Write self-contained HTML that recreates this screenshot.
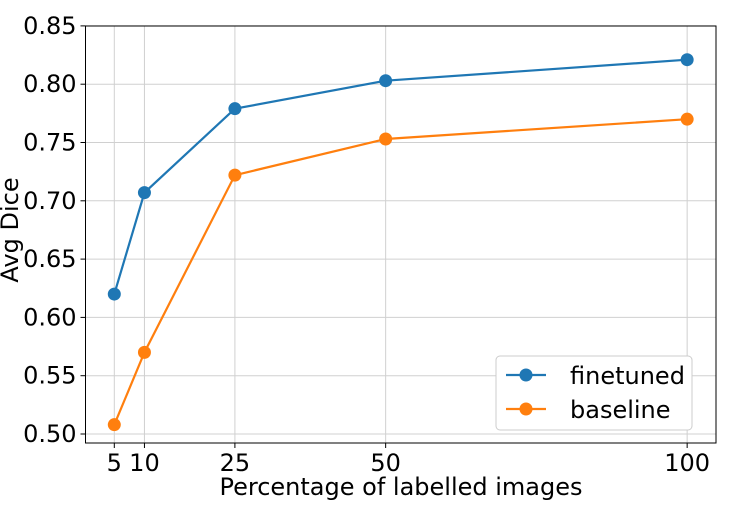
<!DOCTYPE html>
<html><head><meta charset="utf-8"><style>
body{margin:0;background:#fff;}
svg text{font-family:"DejaVu Sans","Liberation Sans",sans-serif;fill:#000;}
</style></head><body>
<svg id="chart" width="736" height="526" xmlns="http://www.w3.org/2000/svg">
<g id="grid"></g><g id="axes"></g><g id="series"></g>
<g>
<rect x="496" y="356" width="196" height="74" rx="4" fill="#fff" stroke="#ccc" stroke-width="1"/>
<g>
<line x1="506" y1="375" x2="546" y2="375" stroke="#1f77b4" stroke-width="2.2"/>
<circle cx="526" cy="375" r="6.5" fill="#1f77b4"/>
<text x="570" y="384" font-size="24">finetuned</text></g>
<g>
<line x1="506" y1="409" x2="546" y2="409" stroke="#ff7f0e" stroke-width="2.2"/>
<circle cx="526" cy="409" r="6.5" fill="#ff7f0e"/>
<text x="570" y="418" font-size="24">baseline</text></g>
</g>
<text x="401" y="495" font-size="24" text-anchor="middle">Percentage of labelled images</text>
<text transform="translate(18,230) rotate(-90)" font-size="24" text-anchor="middle">Avg Dice</text>
</svg>
<script>
const categories=[5,10,25,50,100];
const finetuned=[0.620,0.707,0.779,0.803,0.821];
const baseline=[0.508,0.570,0.722,0.753,0.770];
const yTicks=[0.50,0.55,0.60,0.65,0.70,0.75,0.80,0.85];
const xTicks=[5,10,25,50,100];
const NS="http://www.w3.org/2000/svg";
const L=85.5,R=716,T=26,B=443;
function xs(v){return 114.3+(v-5)*6.03;}
function ys(v){return 434-(v-0.5)/0.05*58.3;}
function mk(tag,attrs,parent){const e=document.createElementNS(NS,tag);for(const k in attrs)e.setAttribute(k,attrs[k]);parent.appendChild(e);return e;}
const grid=document.getElementById('grid'),axes=document.getElementById('axes'),ser=document.getElementById('series');
yTicks.forEach(t=>{const y=ys(t);
const g=mk('line',{x1:L,x2:R,y1:y,y2:y,stroke:'#d0d0d0','stroke-width':1},grid);


mk('line',{x1:L-5,x2:L,y1:y,y2:y,stroke:'#000'},axes);
const tx=mk('text',{x:L-9,y:y+8,'font-size':24,'text-anchor':'end'},axes);tx.textContent=t.toFixed(2);

});
xTicks.forEach(t=>{const x=xs(t);
const g=mk('line',{x1:x,x2:x,y1:T,y2:B,stroke:'#d0d0d0','stroke-width':1},grid);


mk('line',{x1:x,x2:x,y1:B,y2:B+5,stroke:'#000'},axes);
const tx=mk('text',{x:x,y:B+28,'font-size':24,'text-anchor':'middle'},axes);tx.textContent=t;

});
const fr=mk('rect',{x:L,y:T,width:R-L,height:B-T,fill:'none',stroke:'#000','stroke-width':1},axes);


function draw(vals,color,name){
const p=mk('polyline',{points:vals.map((v,i)=>xs(categories[i])+','+ys(v)).join(' '),fill:'none',stroke:color,'stroke-width':2.2},ser);


vals.forEach((v,i)=>{const c=mk('circle',{cx:xs(categories[i]),cy:ys(v),r:6.5,fill:color},ser);

});}
draw(finetuned,'#1f77b4','finetuned');
draw(baseline,'#ff7f0e','baseline');
</script>
</body></html>
